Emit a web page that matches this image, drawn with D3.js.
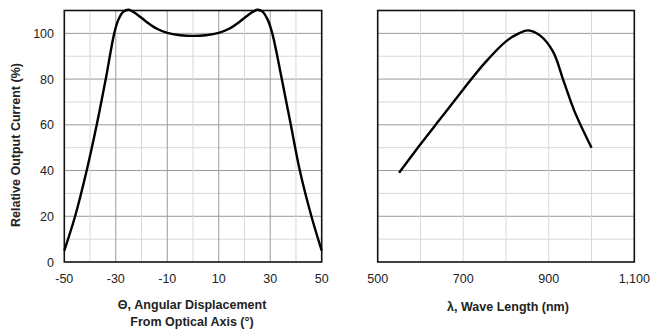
<!DOCTYPE html>
<html>
<head>
<meta charset="utf-8">
<script src="https://cdn.jsdelivr.net/npm/d3@7"></script>
<style>
  body { margin: 0; background: #fff; }
  svg { display: block; font-family: "Liberation Sans", Arial, sans-serif; }
</style>
</head>
<body>
<svg id="chart" width="650" height="331"></svg>
<script>
// Angular response (left panel)
const angleDeg = [-50, -45.8, -41.3, -37.4, -33.9, -30.6, -29, -27, -25, -22, -18, -14, -10, -5, 0, 5, 10, 14, 18, 22, 25, 27, 29, 30.8, 34.5, 38, 41.5, 46, 50];
const angleVal = [5, 20, 40, 60, 80, 100, 106, 109.5, 110.3, 108.5, 105, 102, 100.2, 99.2, 98.9, 99.2, 100.2, 102, 105, 108.5, 110.3, 109.5, 106, 100, 80, 60, 40, 20, 5];
const angleTicks = [-50, -30, -10, 10, 30, 50];

// Spectral response (right panel)
const waveNm = [550, 600, 650, 700, 750, 800, 830, 852, 880, 910, 935, 960, 1000];
const waveVal = [39, 51.5, 63.5, 75.5, 87, 96.5, 100, 101.3, 99, 92, 79, 66, 50];
const waveTicks = [500, 700, 900, 1100];

const yTicks = [0, 20, 40, 60, 80, 100];

const svg = d3.select("#chart");
const plotTop = 10.5, plotBottom = 262;
const y = d3.scaleLinear().domain([0, 110]).range([plotBottom, plotTop]);

function panel(x0, x1, xDomain, xStep, xs, ys, ticks, fmt, darkX) {
  const x = d3.scaleLinear().domain(xDomain).range([x0, x1]);
  const g = svg.append("g");

  // horizontal grid every 10
  d3.range(10, 110, 10).forEach(v => {
    g.append("line")
      .attr("x1", x0).attr("x2", x1)
      .attr("y1", y(v)).attr("y2", y(v))
      .attr("stroke", v % 20 === 0 ? "#999" : "#d8d8d8")
      .attr("stroke-width", 1);
  });
  // vertical grid
  d3.range(xDomain[0] + xStep, xDomain[1], xStep).forEach(v => {
    g.append("line")
      .attr("x1", x(v)).attr("x2", x(v))
      .attr("y1", plotTop).attr("y2", plotBottom)
      .attr("stroke", darkX && ticks.includes(v) ? "#999" : "#d8d8d8")
      .attr("stroke-width", 1);
  });

  // frame
  g.append("rect")
    .attr("x", x0).attr("y", plotTop)
    .attr("width", x1 - x0).attr("height", plotBottom - plotTop)
    .attr("fill", "none").attr("stroke", "#111").attr("stroke-width", 1.6);

  // curve
  const line = d3.line()
    .x(d => x(d[0]))
    .y(d => y(d[1]))
    .curve(d3.curveCatmullRom.alpha(0.5));
  g.append("path")
    .datum(xs.map((v, i) => [v, ys[i]]))
    .attr("d", line)
    .attr("fill", "none")
    .attr("stroke", "#000")
    .attr("stroke-width", 2.4)
    .attr("stroke-linejoin", "round");

  // x tick labels
  g.selectAll(".xt").data(ticks).enter().append("text")
    .attr("x", d => x(d))
    .attr("y", 283)
    .attr("text-anchor", "middle")
    .attr("font-size", 12.5)
    .attr("fill", "#222")
    .text(fmt);

  return x;
}

panel(64.3, 321.7, [-50, 50], 10, angleDeg, angleVal, angleTicks, d => d, true);
panel(377.7, 634.3, [500, 1100], 100, waveNm, waveVal, waveTicks, d3.format(","), false);

// y tick labels (left panel only)
svg.selectAll(".yt").data(yTicks).enter().append("text")
  .attr("x", 54)
  .attr("y", d => y(d) + 4.5)
  .attr("text-anchor", "end")
  .attr("font-size", 12.5)
  .attr("fill", "#222")
  .text(d => d);

// axis titles
svg.append("text")
  .attr("transform", "translate(19.5,145) rotate(-90)")
  .attr("text-anchor", "middle")
  .attr("font-size", 12.5)
  .attr("font-weight", "bold")
  .attr("fill", "#222")
  .text("Relative Output Current (%)");

svg.append("text")
  .attr("x", 192).attr("y", 309)
  .attr("text-anchor", "middle")
  .attr("font-size", 12.5)
  .attr("font-weight", "bold")
  .attr("fill", "#222")
  .text("\u0398, Angular Displacement");

svg.append("text")
  .attr("x", 192).attr("y", 326)
  .attr("text-anchor", "middle")
  .attr("font-size", 12.5)
  .attr("font-weight", "bold")
  .attr("fill", "#222")
  .text("From Optical Axis (\u00b0)");

svg.append("text")
  .attr("x", 508).attr("y", 311)
  .attr("text-anchor", "middle")
  .attr("font-size", 12.5)
  .attr("font-weight", "bold")
  .attr("fill", "#222")
  .text("\u03bb, Wave Length (nm)");
</script>
</body>
</html>
